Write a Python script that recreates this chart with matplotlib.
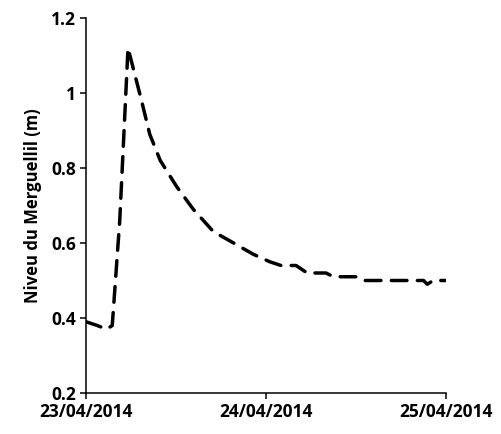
import numpy as np
import pandas as pd
import matplotlib
matplotlib.use('Agg')
import matplotlib.pyplot as plt
import matplotlib.dates as mdates
from matplotlib.ticker import FuncFormatter

# heures depuis le 23/04/2014 00:00
heures = [0, 1.5, 2.75, 3.5, 4.5, 5.6, 6.5, 7.4, 8.5, 9.9, 12.1, 14.3, 17.0,
          18.8, 22.3, 24.5, 26.0, 28.0, 29.5, 32.0, 33.0, 36.0, 37.0, 45.0,
          45.5, 46.3, 48.0]
niveau = [0.39, 0.38, 0.37, 0.38, 0.66, 1.12, 1.05, 0.98, 0.89, 0.82, 0.75,
          0.69, 0.63, 0.61, 0.57, 0.55, 0.54, 0.54, 0.52, 0.52, 0.51, 0.51,
          0.50, 0.50, 0.49, 0.50, 0.50]
debut = '2014-04-23'
ticks_x = ['2014-04-23', '2014-04-24', '2014-04-25']
ticks_y = [0.2, 0.4, 0.6, 0.8, 1.0, 1.2]

dates = pd.Timestamp(debut) + pd.to_timedelta(heures, unit='h')

plt.rcParams['font.family'] = ['Open Sans', 'DejaVu Sans']

fig = plt.figure(figsize=(5.01, 4.34), dpi=100)
ax = fig.add_axes([86 / 501, 41 / 434, 360 / 501, 375 / 434])

ax.plot(dates, niveau, color='black', linewidth=2.5, linestyle=(0, (4.5, 3.0)),
        dash_capstyle='round', solid_joinstyle='round')

ax.set_xlim(pd.Timestamp(ticks_x[0]), pd.Timestamp(ticks_x[-1]))
ax.set_ylim(0.2, 1.2)
ax.set_xticks(pd.to_datetime(ticks_x))
ax.xaxis.set_major_formatter(mdates.DateFormatter('%d/%m/%Y'))
ax.set_yticks(ticks_y)
ax.yaxis.set_major_formatter(FuncFormatter(lambda v, p: f'{v:g}'))

for s in ['top', 'right']:
    ax.spines[s].set_visible(False)
for s in ['left', 'bottom']:
    ax.spines[s].set_linewidth(1.1)
ax.tick_params(direction='out', length=4, width=1.1, labelsize=12.5, pad=3)
for lab in ax.get_xticklabels() + ax.get_yticklabels():
    lab.set_fontweight('bold')

ax.set_ylabel('Niveu du Merguellil (m)', fontsize=12, fontweight='bold', labelpad=7)

fig.savefig('out.png', dpi=100)
